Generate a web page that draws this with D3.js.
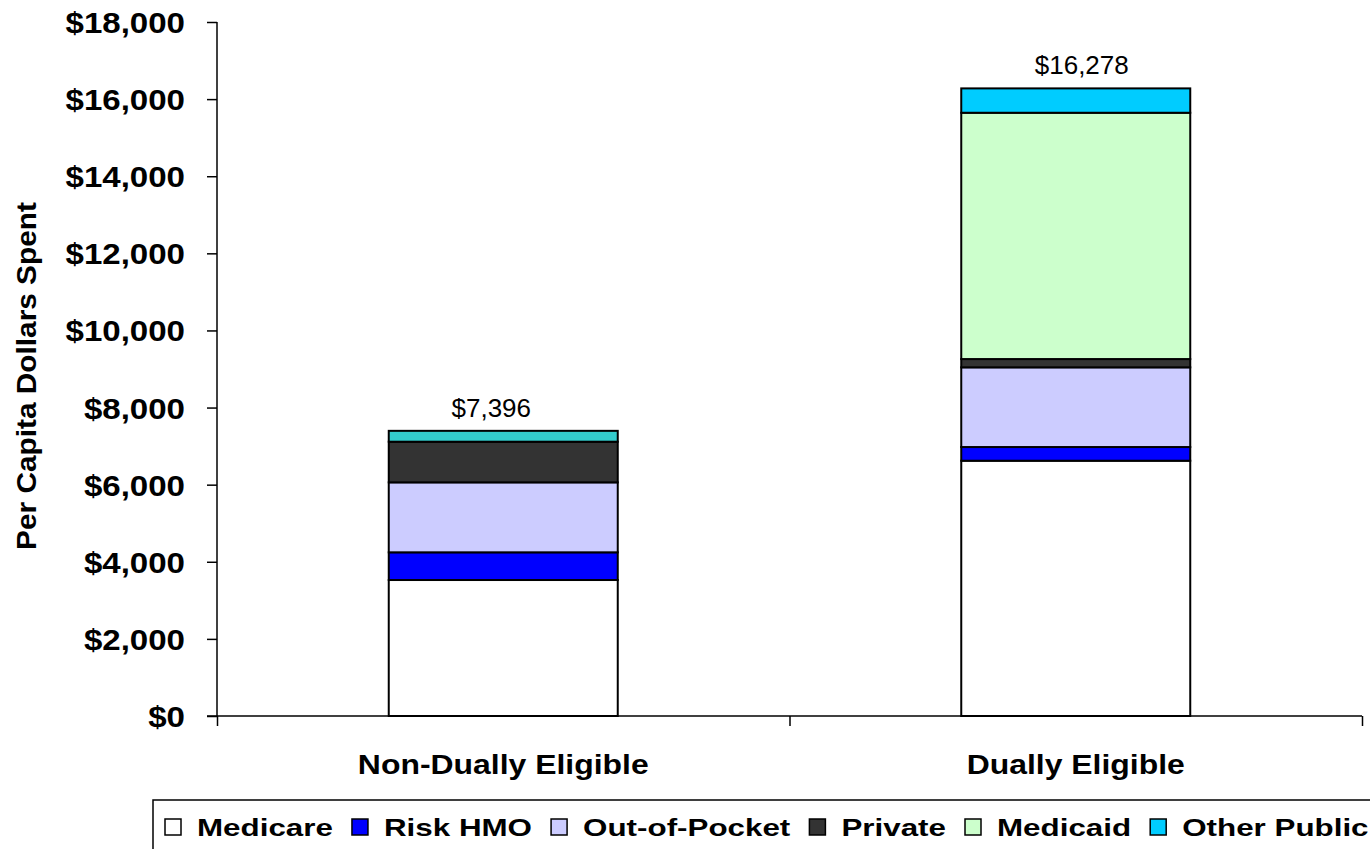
<!DOCTYPE html>
<html>
<head>
<meta charset="utf-8">
<script src="https://cdn.jsdelivr.net/npm/d3@7"></script>
<style>
  html, body { margin: 0; padding: 0; background: #fff; }
  svg { display: block; }
  text { font-family: "Liberation Sans", Arial, sans-serif; fill: #000; }
</style>
</head>
<body>
<svg id="chart" width="1370" height="849"></svg>
<script>
// ---- data ----
const categories = ["Non-Dually Eligible", "Dually Eligible"];
const seriesNames = ["Medicare", "Risk HMO", "Out-of-Pocket", "Private", "Medicaid", "Other Public"];
const medicare    = [3527, 6621];
const riskHMO     = [718, 355];
const outOfPocket = [1815, 2067];
const privateIns  = [1054, 215];
const medicaid    = [0, 6388];
const otherPublic = [282, 632];
const totals      = [7396, 16278];
const yTickValues = [0, 2000, 4000, 6000, 8000, 10000, 12000, 14000, 16000, 18000];

// ---- styles ----
const colors = {
  "Medicare": "#FFFFFF",
  "Risk HMO": "#0000FF",
  "Out-of-Pocket": "#CCCCFF",
  "Private": "#333333",
  "Medicaid": "#CCFFCC",
  "Other Public": "#00CCFF"
};
// point-level fill override seen in the reference (first bar's top segment)
function fillFor(key, i) {
  if (key === "Other Public" && i === 0) return "#33CCCC";
  return colors[key];
}

const svg = d3.select("#chart");
const plot = { left: 217, right: 1362, top: 22, bottom: 716 };

const rows = categories.map((c, i) => ({
  category: c,
  "Medicare": medicare[i],
  "Risk HMO": riskHMO[i],
  "Out-of-Pocket": outOfPocket[i],
  "Private": privateIns[i],
  "Medicaid": medicaid[i],
  "Other Public": otherPublic[i],
  idx: i
}));

const x = d3.scaleBand()
  .domain(categories)
  .range([plot.left, plot.right])
  .paddingInner(0.6)
  .paddingOuter(0.3);

const y = d3.scaleLinear().domain([0, 18000]).range([plot.bottom, plot.top]);

// horizontally stretch glyphs of text elements (keeps anchor point)
function hstretch(sel, factor) {
  sel.each(function () {
    const t = d3.select(this);
    const tx = +t.attr("x") || 0;
    const ty = +t.attr("y") || 0;
    const prev = t.attr("transform") || "";
    t.attr("x", 0).attr("y", 0)
     .attr("transform", `${prev} translate(${tx},${ty}) scale(${factor},1)`);
  });
}

// ---- bars ----
const stack = d3.stack().keys(seriesNames);
const layers = stack(rows);

svg.append("g").selectAll("g")
  .data(layers)
  .join("g")
  .each(function (layer) {
    d3.select(this).selectAll("rect")
      .data(layer.filter(d => d[1] - d[0] > 0))
      .join("rect")
      .attr("x", d => x(d.data.category))
      .attr("width", x.bandwidth())
      .attr("y", d => y(d[1]))
      .attr("height", d => y(d[0]) - y(d[1]))
      .attr("fill", d => fillFor(layer.key, d.data.idx))
      .attr("stroke", "#000")
      .attr("stroke-width", 2);
  });

// ---- total labels ----
const labelDx = [-12, 6];
svg.append("g").selectAll("text")
  .data(totals)
  .join("text")
  .attr("x", (d, i) => x(categories[i]) + x.bandwidth() / 2 + labelDx[i])
  .attr("y", d => y(d) - 14)
  .attr("text-anchor", "middle")
  .style("font-size", "26px")
  .text(d => "$" + d3.format(",")(d));

// ---- y axis ----
const yAxis = svg.append("g")
  .attr("transform", `translate(${plot.left},0)`)
  .call(d3.axisLeft(y).tickValues(yTickValues).tickSize(10).tickPadding(22)
    .tickFormat(d => "$" + d3.format(",")(d)));
yAxis.select(".domain").attr("stroke", "#000").attr("stroke-width", 1.5).attr("d", `M0,${plot.top}V${plot.bottom}`);
yAxis.selectAll(".tick line").attr("stroke", "#000").attr("stroke-width", 1.5);
yAxis.selectAll(".tick text")
  .style("font-size", "29px").style("font-weight", "bold")
  .attr("fill", "#000").attr("dy", "0.36em")
  .call(hstretch, 1.14);

// ---- x axis (ticks on category boundaries) ----
const xb = d3.scaleLinear().domain([0, categories.length]).range([plot.left, plot.right]);
const xAxis = svg.append("g")
  .attr("transform", `translate(0,${plot.bottom})`)
  .call(d3.axisBottom(xb).tickValues(d3.range(categories.length + 1))
    .tickSize(10).tickFormat(""));
xAxis.select(".domain").attr("stroke", "#000").attr("stroke-width", 1.5).attr("d", `M${plot.left - 10},0H${plot.right}`);
xAxis.selectAll(".tick line").attr("stroke", "#000").attr("stroke-width", 1.5);

svg.append("g").selectAll("text")
  .data(categories)
  .join("text")
  .attr("x", d => x(d) + x.bandwidth() / 2)
  .attr("y", 774)
  .attr("text-anchor", "middle")
  .style("font-size", "28.5px").style("font-weight", "bold")
  .text(d => d)
  .call(hstretch, 1.12);

// ---- y title ----
svg.append("text")
  .attr("transform", `translate(36,${(202 + 550) / 2}) rotate(-90) scale(1.065,1)`)
  .attr("text-anchor", "middle")
  .style("font-size", "28px").style("font-weight", "bold")
  .text("Per Capita Dollars Spent");

// ---- legend ----
const legend = svg.append("g");
legend.append("rect")
  .attr("x", 153).attr("y", 800).attr("width", 1240).attr("height", 80)
  .attr("fill", "#fff").attr("stroke", "#000").attr("stroke-width", 1.5);

const legendStretch = 1.28;
let lx = 165;
seriesNames.forEach(name => {
  legend.append("rect")
    .attr("x", lx).attr("y", 819).attr("width", 16).attr("height", 16)
    .attr("fill", colors[name]).attr("stroke", "#000").attr("stroke-width", 1.5);
  const t = legend.append("text")
    .attr("x", lx + 32).attr("y", 836)
    .style("font-size", "24.5px").style("font-weight", "bold")
    .text(name);
  const w = t.node().getComputedTextLength() * legendStretch;
  t.call(hstretch, legendStretch);
  lx = lx + 32 + w + 19;
});
</script>
</body>
</html>
